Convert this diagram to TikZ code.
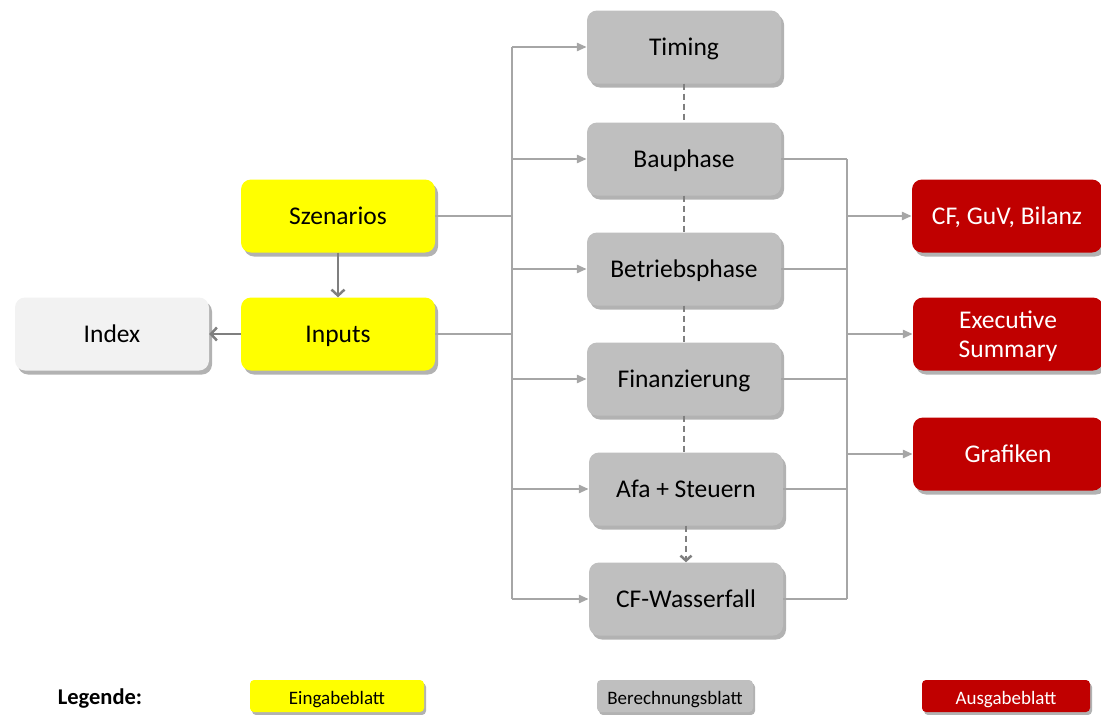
\documentclass[tikz,border=0pt]{standalone}
\usepackage{fontspec}
\setmainfont{Carlito}
\usetikzlibrary{arrows.meta,shadows,calc}
\definecolor{inyellow}{HTML}{FFFF00}
\definecolor{calcgray}{HTML}{BFBFBF}
\definecolor{outred}{HTML}{C00000}
\definecolor{idxgray}{HTML}{F2F2F2}
\definecolor{linegray}{HTML}{A6A6A6}
\definecolor{darkline}{HTML}{7F7F7F}
\tikzset{
  box/.style={rounded corners=10pt, minimum width=194pt, minimum height=73pt, align=center,
    font=\fontsize{25.5}{30}\selectfont, inner sep=2pt, text height=20pt, text depth=4pt,
    drop shadow={shadow xshift=3pt, shadow yshift=-4pt, fill=black, opacity=0.3}},
  inbox/.style={box, fill=inyellow},
  calcbox/.style={box, fill=calcgray},
  outbox/.style={box, fill=outred, text=white, minimum width=190pt},
  idxbox/.style={box, fill=idxgray},
  legbox/.style={rounded corners=4pt, minimum height=32pt, inner sep=1pt,
    font=\fontsize{19}{22}\selectfont, text height=16pt, text depth=0pt,
    drop shadow={shadow xshift=2pt, shadow yshift=-3pt, fill=black, opacity=0.3}},
  conn/.style={draw=linegray, line width=2.5pt},
  tip/.style={-{Triangle[length=10pt,width=8pt]}},
  darkarrow/.style={draw=darkline, line width=2.5pt, -{Straight Barb[length=6pt,width=13pt,line width=2.5pt]}},
  dashconn/.style={draw=darkline, line width=2.5pt, dash pattern=on 6pt off 4pt}
}
\begin{document}
\begin{tikzpicture}[x=1pt,y=-1pt]
\useasboundingbox (0,0) rectangle (1101,715);
% nodes
\node[inbox] (sz) at (338,216) {Szenarios};
\node[inbox] (inp) at (338,334) {Inputs};
\node[idxbox] (idx) at (112,334) {Index};
\node[calcbox] (timing) at (684,47) {Timing};
\node[calcbox] (bau) at (684,159) {Bauphase};
\node[calcbox] (betrieb) at (684,269) {Betriebsphase};
\node[calcbox] (fin) at (684,379) {Finanzierung};
\node[calcbox] (afa) at (686,489) {Afa + Steuern};
\node[calcbox] (cfw) at (686,599) {CF-Wasserfall};
\node[outbox] (cfg) at (1007,216) {CF, GuV, Bilanz};
\node[outbox, text height=51pt] (exec) at (1008,334) {Executive\\[-1pt]Summary};
\node[outbox] (graf) at (1008,454) {Grafiken};
% bus coordinates
\coordinate (L) at (512,0);
\coordinate (R) at (847,0);
% left side
\draw[darkarrow] (sz.south) -- (inp.north);
\draw[darkarrow] (inp.west) -- (idx.east);
\draw[conn] (sz.east) -- (L |- sz.east);
\draw[conn] (inp.east) -- (L |- inp.east);
\draw[conn] (L |- timing.west) -- (L |- cfw.west);
\foreach \n in {timing,bau,betrieb,fin,afa,cfw}
  \draw[conn,tip] (L |- \n.west) -- (\n.west);
% right side
\draw[conn] (R |- bau.east) -- (R |- cfw.east);
\foreach \n in {bau,betrieb,fin,afa,cfw}
  \draw[conn] (\n.east) -- (R |- \n.east);
\foreach \n in {cfg,exec,graf}
  \draw[conn,tip] (R |- \n.west) -- (\n.west);
% dashed chain
\draw[dashconn] (timing.south) -- (bau.north);
\draw[dashconn] (bau.south) -- (betrieb.north);
\draw[dashconn] (betrieb.south) -- (fin.north);
\draw[dashconn] (fin.south) -- (fin.south |- afa.north);
\draw[dashconn, -{Straight Barb[length=5pt,width=11pt,line width=2.5pt]}] (afa.south) -- (cfw.north);
% legend
\node[font=\fontsize{22.5}{26}\selectfont\bfseries] (leg) at (100,699) {Legende:};
\node[legbox, fill=inyellow, minimum width=174pt] (lin) at (337,696) {Eingabeblatt};
\node[legbox, fill=calcgray, minimum width=156pt] (lcalc) at (675,696) {Berechnungsblatt};
\node[legbox, fill=outred, text=white, minimum width=168pt] (lout) at (1006,696) {Ausgabeblatt};
\end{tikzpicture}
\end{document}
